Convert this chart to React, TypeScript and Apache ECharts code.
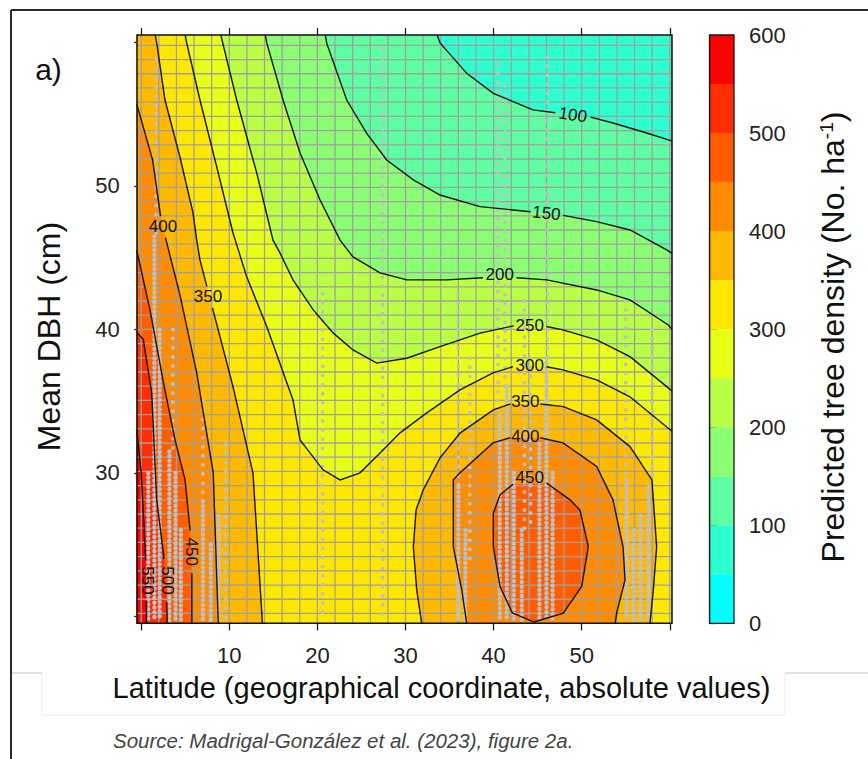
import React, { useEffect, useRef } from "react";
import * as echarts from "echarts";

const FONT = "'Liberation Sans', Arial, Helvetica, sans-serif";

// ---------- axes ----------
const latLabels = [10, 20, 30, 40, 50];
const dbhLabels = [30, 40, 50];
const densityTicks = [0, 100, 200, 300, 400, 500, 600];

// ---------- colour classes (No. ha-1) ----------
const densityBreaks = [0, 50, 100, 150, 200, 250, 300, 350, 400, 450, 500, 550, 600];
const binColors = [
  "#00FFFF", "#2EFFD1", "#5DFFA2", "#8BFF74", "#B9FF46", "#E8FF17",
  "#FFE800", "#FFB900", "#FF8B00", "#FF5D00", "#FF2E00", "#FF0000",
];

// ---------- contour lines [latitude, mean DBH]; null = gap for label ----------
const c100 = [[33.6, 60.5], [33.92, 59.97], [36.95, 57.85], [39.97, 56.46], [44.47, 55.3], [47.0, 55.1], null, [51.0, 54.8], [53.55, 54.39], [57.38, 53.69], [59.83, 53.21], [60.25, 53.14]];
const c150 = [[20.9, 60.5], [21.06, 59.94], [23.33, 55.99], [25.6, 53.67], [27.87, 51.81], [30.89, 50.42], [33.92, 49.37], [38.46, 48.56], [44.2, 48.2], null, [47.9, 47.95], [51.7, 47.51], [55.48, 46.93], [59.65, 45.54], [60.25, 45.3]];
const c200 = [[14.1, 60.5], [14.25, 59.97], [16.1, 55.99], [18.03, 52.3], [20.3, 49.02], [22.57, 46.22], [24.04, 45.05], [27.11, 43.94], [30.14, 43.45], [34.68, 43.45], [38.8, 43.6], null, [42.6, 43.6], [46.03, 43.45], [51.7, 42.75], [55.48, 42.06], [59.83, 40.31], [60.25, 40.0]];
const c250 = [[9.05, 60.5], [9.25, 59.97], [10.84, 55.99], [13.11, 50.91], [14.96, 46.22], [15.75, 45.33], [17.23, 43.45], [19.53, 41.36], [21.81, 39.74], [24.04, 38.57], [26.73, 37.65], [30.14, 37.99], [33.92, 38.8], [38.46, 39.74], [42.3, 40.25], null, [46.0, 40.2], [47.88, 39.97], [51.7, 39.27], [55.48, 38.1], [59.65, 36.01], [60.25, 35.7]];
const c300 = [[5.0, 60.5], [5.16, 59.97], [6.67, 55.99], [8.57, 51.35], [10.42, 46.72], [11.97, 43.68], [14.25, 40.2], [17.23, 35.08], [18.03, 32.3], [20.64, 30.21], [22.57, 29.51], [24.84, 30.0], [27.11, 31.39], [29.38, 32.79], [32.41, 34.18], [36.19, 35.78], [39.93, 36.97], [42.2, 37.4], null, [46.0, 37.4], [47.88, 37.18], [51.7, 36.48], [55.48, 35.3], [59.65, 33.2], [60.25, 32.9]];
const c350w = [[1.6, 60.5], [1.76, 59.97], [2.7, 55.99], [4.4, 52.02], [5.88, 48.12], [6.3, 46.22], [6.67, 44.84], [7.45, 43.0], null, [8.09, 41.5], [10.42, 36.01], [12.69, 29.98], [13.71, 20.03], [13.75, 19.5]];
const c350e = [[31.84, 19.5], [31.27, 21.85], [30.89, 24.84], [31.2, 27.42], [32.02, 28.82], [33.92, 31.04], [36.19, 32.77], [39.97, 34.39], [41.9, 34.8], null, [45.3, 34.8], [47.92, 34.62], [51.7, 33.69], [55.48, 31.83], [57.97, 29.51], [58.51, 24.84], [58.13, 21.85], [57.75, 19.5]];
const c400w = [[-0.5, 55.7], [1.3, 51.8], [2.2, 47.9], null, [2.75, 46.4], [4.4, 42.4], [6.3, 36.97], [8.18, 30.0], [8.72, 20.03], [8.75, 19.5]];
const c400e = [[36.95, 19.5], [36.38, 21.85], [35.43, 24.84], [35.43, 29.51], [36.19, 30.0], [39.93, 32.09], [41.9, 32.45], null, [45.3, 32.45], [47.88, 32.09], [51.7, 30.44], [53.55, 28.12], [54.69, 24.84], [54.92, 22.54], [53.97, 20.24], [53.8, 19.5]];
const c450w = [[-0.5, 45.5], [1.0, 41.36], [2.47, 36.48], [3.84, 32.3], [4.98, 29.51], [5.55, 26.0], null, [5.75, 23.0], [5.75, 19.5]];
const c450e = [[44.6, 19.6], [42.13, 20.24], [40.73, 22.08], [39.97, 24.86], [39.97, 27.19], [40.73, 28.47], [42.2, 29.2], null, [46.03, 29.28], [48.67, 28.12], [49.8, 27.4], [50.75, 24.86], [50.0, 22.08], [47.91, 20.22], [44.6, 19.6]];
const c500 = [[-0.5, 39.8], [0.24, 39.3], [1.19, 35.57], [1.76, 28.12], [2.6, 24.0], null, [2.9, 21.0], [2.95, 19.5]];
const c550 = [[-0.5, 33.0], [0.0, 30.0], [0.35, 26.0], [0.5, 23.9], null, [0.6, 21.1], [0.6, 19.5]];

const contourLines = [c100, c150, c200, c250, c300, c350w, c350e, c400w, c400e, c450w, c450e, c500, c550];

// contour labels: [text, latitude, DBH, angle in degrees]
const contourLabels: [string, number, number, number][] = [
  ["100", 49.0, 54.95, -9],
  ["150", 46.0, 48.1, -6],
  ["200", 40.7, 43.8, 0],
  ["250", 44.1, 40.3, 0],
  ["300", 44.1, 37.45, 0],
  ["350", 43.6, 34.95, 0],
  ["400", 43.6, 32.5, 0],
  ["450", 44.1, 29.7, 0],
  ["400", 2.47, 47.14, 0],
  ["350", 7.58, 42.26, 0],
  ["550", 0.7, 22.5, -90],
  ["500", 3.0, 22.5, -90],
  ["450", 5.75, 24.5, -90],
];

// filled superlevel regions: level, boundary line, frame corners closing it
const fillLayers: { level: number; line: any[]; close: string[] }[] = [
  { level: 50, line: [], close: ["LT", "RT", "RB", "LB"] },
  { level: 100, line: c100, close: ["RB", "LB", "LT"] },
  { level: 150, line: c150, close: ["RB", "LB", "LT"] },
  { level: 200, line: c200, close: ["RB", "LB", "LT"] },
  { level: 250, line: c250, close: ["RB", "LB", "LT"] },
  { level: 300, line: c300, close: ["RB", "LB", "LT"] },
  { level: 350, line: c350w, close: ["LB", "LT"] },
  { level: 350, line: c350e, close: [] },
  { level: 400, line: c400w, close: ["LB"] },
  { level: 400, line: c400e, close: [] },
  { level: 450, line: c450w, close: ["LB"] },
  { level: 450, line: c450e, close: [] },
  { level: 500, line: c500, close: ["LB"] },
  { level: 550, line: c550, close: ["LB"] },
];

// plot observations (grey dots) as columns: [latitude, DBH top, DBH bottom]
const denseDotColumns = [
  [0.8, 30, 19.7], [1.5, 46.5, 19.7], [2.1, 40, 19.7], [3.2, 31.5, 19.7], [3.9, 30, 19.7], [4.5, 26, 19.7],
  [7.0, 28, 19.7], [7.9, 25, 19.7], [8.8, 27, 19.7], [36.0, 29, 19.7], [36.8, 26, 19.7],
  [40.7, 34, 19.7], [41.5, 36, 19.7], [42.3, 30, 19.7], [43.2, 26, 19.7], [45.2, 32, 19.7],
  [46.0, 38, 19.7], [46.7, 30, 19.7], [55.1, 29.5, 19.7], [55.9, 26, 19.7], [56.7, 27, 19.7], [57.6, 29, 19.7],
];
const sparseDotColumns = [
  [1.7, 58.8, 46.5], [3.6, 40, 31.5], [7.0, 35, 28], [9.6, 32, 19.7], [20.6, 42.5, 19.7],
  [27.4, 59.5, 19.7], [36.0, 42.5, 29], [37.3, 38, 24], [40.5, 58.5, 34], [41.3, 57, 36],
  [43.5, 42, 26], [46.1, 59, 38], [55.0, 42, 29.5], [58.0, 40, 29], [44.2, 38, 26],
];

const FRAME: Record<string, number[]> = {
  LT: [-0.5, 60.5], RT: [60.25, 60.5], RB: [60.25, 19.5], LB: [-0.5, 19.5],
};

function buildOption() {
  const gridLines: number[][] = [];
  for (let v = 0; v <= 60; v += 2) gridLines.push([0, v]);
  for (let k = 0; k <= 40; k++) gridLines.push([1, 20.2 + k * 0.99]);

  const tickStyle = { length: 7, lineStyle: { color: "#1a1a1a", width: 1.3 } };
  const labelBase = { fontSize: 22, fontFamily: FONT, color: "#222" };

  const dotRender = (dense: boolean) => (params: any, api: any) => {
    const p1 = api.coord([api.value(0), api.value(1)]);
    const p2 = api.coord([api.value(0), api.value(2)]);
    return {
      type: "line",
      shape: { x1: p1[0], y1: p1[1], x2: p2[0], y2: p2[1] },
      style: {
        stroke: "#c0c0c0",
        lineWidth: dense ? 4.4 : 3.8,
        lineDash: dense ? [0.1, 4.6] : [0.1, 9],
        lineCap: "round",
      },
    };
  };

  return {
    animation: false,
    backgroundColor: "#ffffff",
    grid: [
      { left: 141.2, top: 42.5, width: 528.6, height: 573.8 },
      { left: 709.7, top: 35, width: 24.3, height: 588.3 },
    ],
    xAxis: [
      {
        gridIndex: 0, type: "value", min: 0, max: 60, interval: 10, position: "bottom", offset: 7,
        axisLine: { show: false }, axisTick: tickStyle, splitLine: { show: false },
        axisLabel: { ...labelBase, margin: 21, formatter: (v: number) => (latLabels.includes(v) ? String(v) : "") },
      },
      {
        gridIndex: 0, type: "value", min: 0, max: 60, interval: 10, position: "top", offset: 7.5,
        axisLine: { show: false }, axisTick: tickStyle, splitLine: { show: false }, axisLabel: { show: false },
      },
      { gridIndex: 1, type: "value", min: 0, max: 1, show: false },
    ],
    yAxis: [
      {
        gridIndex: 0, type: "value", min: 20, max: 60, interval: 10, position: "left", offset: 4.4,
        axisLine: { show: false }, axisTick: tickStyle, splitLine: { show: false },
        axisLabel: { ...labelBase, margin: 17, formatter: (v: number) => (dbhLabels.includes(v) ? String(v) : "") },
      },
      {
        gridIndex: 0, type: "value", min: 20, max: 60, interval: 10, position: "right", offset: 2.2,
        axisLine: { show: false }, axisTick: tickStyle, splitLine: { show: false }, axisLabel: { show: false },
      },
      {
        gridIndex: 1, type: "value", min: densityTicks[0], max: densityTicks[densityTicks.length - 1], interval: 100,
        position: "right", axisLine: { show: true, lineStyle: { color: "#1a1a1a", width: 1.3 } },
        axisTick: tickStyle, splitLine: { show: false }, axisLabel: { ...labelBase, margin: 15 },
      },
    ],
    series: [
      {
        type: "custom", name: "fills", xAxisIndex: 0, yAxisIndex: 0, z: 1,
        data: fillLayers.map((f, i) => [i, f.level]),
        renderItem: (params: any, api: any) => {
          const f = fillLayers[params.dataIndex];
          const pts = f.line.filter((p: any) => p).concat(f.close.map((k) => FRAME[k]));
          return {
            type: "polygon",
            shape: { points: pts.map((p: number[]) => api.coord(p)) },
            style: { fill: binColors[f.level / 50] },
          };
        },
      },
      {
        type: "custom", name: "grid", xAxisIndex: 0, yAxisIndex: 0, z: 2,
        data: gridLines,
        renderItem: (params: any, api: any) => {
          const kind = api.value(0);
          const v = api.value(1);
          const a = kind === 0 ? api.coord([v, 19.5]) : api.coord([-0.5, v]);
          const b = kind === 0 ? api.coord([v, 60.5]) : api.coord([60.25, v]);
          return {
            type: "line",
            shape: { x1: a[0], y1: a[1], x2: b[0], y2: b[1] },
            style: { stroke: "#a0a0a0", lineWidth: 1.3 },
          };
        },
      },
      {
        type: "custom", name: "obs-sparse", xAxisIndex: 0, yAxisIndex: 0, z: 3,
        data: sparseDotColumns, renderItem: dotRender(false),
      },
      {
        type: "custom", name: "obs-dense", xAxisIndex: 0, yAxisIndex: 0, z: 3,
        data: denseDotColumns, renderItem: dotRender(true),
      },
      {
        type: "custom", name: "contours", xAxisIndex: 0, yAxisIndex: 0, z: 4,
        data: contourLines.map((_, i) => [i, 0]),
        renderItem: (params: any, api: any) => {
          const line = contourLines[params.dataIndex];
          const segs: number[][][] = [];
          let cur: number[][] = [];
          line.forEach((p: any) => {
            if (!p) { if (cur.length) segs.push(cur); cur = []; }
            else cur.push(api.coord(p));
          });
          if (cur.length) segs.push(cur);
          return {
            type: "group",
            children: segs.map((s) => ({
              type: "polyline",
              shape: { points: s },
              style: { stroke: "#141414", lineWidth: 1.4, fill: null },
            })),
          };
        },
      },
      {
        type: "custom", name: "contour-labels", xAxisIndex: 0, yAxisIndex: 0, z: 5,
        data: contourLabels.map((l) => [l[1], l[2]]),
        renderItem: (params: any, api: any) => {
          const l = contourLabels[params.dataIndex];
          const p = api.coord([l[1], l[2]]);
          return {
            type: "text", x: p[0], y: p[1], rotation: (l[3] * Math.PI) / 180,
            style: { text: l[0], fontSize: 17, fontFamily: FONT, fill: "#111", align: "center", verticalAlign: "middle" },
          };
        },
      },
      {
        type: "custom", name: "colorbar", xAxisIndex: 2, yAxisIndex: 2, z: 1,
        data: binColors.map((_, i) => [densityBreaks[i], densityBreaks[i + 1]]),
        renderItem: (params: any, api: any) => {
          const p1 = api.coord([0, api.value(1)]);
          const p2 = api.coord([1, api.value(0)]);
          return {
            type: "rect",
            shape: { x: p1[0], y: p1[1], width: p2[0] - p1[0], height: p2[1] - p1[1] },
            style: { fill: binColors[params.dataIndex] },
          };
        },
      },
    ],
    graphic: [
      { type: "line", z: 20, shape: { x1: 11, y1: 10, x2: 868, y2: 10 }, style: { stroke: "#2a2a2a", lineWidth: 2 } },
      { type: "line", z: 20, shape: { x1: 11, y1: 10, x2: 11, y2: 759 }, style: { stroke: "#2a2a2a", lineWidth: 2 } },
      { type: "line", z: 20, shape: { x1: 12, y1: 673, x2: 42, y2: 673 }, style: { stroke: "#c4c4c4", lineWidth: 1 } },
      { type: "line", z: 20, shape: { x1: 785, y1: 673, x2: 868, y2: 673 }, style: { stroke: "#c4c4c4", lineWidth: 1 } },
      { type: "line", z: 20, shape: { x1: 42, y1: 673, x2: 42, y2: 715 }, style: { stroke: "#ececec", lineWidth: 1 } },
      { type: "line", z: 20, shape: { x1: 42, y1: 715, x2: 785, y2: 715 }, style: { stroke: "#ececec", lineWidth: 1 } },
      { type: "line", z: 20, shape: { x1: 785, y1: 673, x2: 785, y2: 715 }, style: { stroke: "#ececec", lineWidth: 1 } },
      { type: "rect", z: 20, shape: { x: 137, y: 35, width: 535, height: 588.3 }, style: { fill: "none", stroke: "#111", lineWidth: 1.5 } },
      { type: "rect", z: 20, shape: { x: 709.7, y: 35, width: 24.3, height: 588.3 }, style: { fill: "none", stroke: "#1a1a1a", lineWidth: 1.3 } },
      { type: "text", z: 20, x: 48.5, y: 69, style: { text: "a)", fontSize: 30, fontFamily: FONT, fill: "#111", align: "center", verticalAlign: "middle" } },
      { type: "text", z: 20, x: 49, y: 336.5, rotation: Math.PI / 2, style: { text: "Mean DBH (cm)", fontSize: 32, fontFamily: FONT, fill: "#111", align: "center", verticalAlign: "middle" } },
      { type: "text", z: 20, x: 441.5, y: 688, style: { text: "Latitude (geographical coordinate, absolute values)", fontSize: 29, fontFamily: FONT, fill: "#111", align: "center", verticalAlign: "middle" } },
      {
        type: "text", z: 20, x: 833, y: 337, rotation: Math.PI / 2,
        style: {
          text: "{a|Predicted tree density (No. ha}{s|-1}{a|)}",
          align: "center", verticalAlign: "middle", fill: "#111",
          rich: {
            a: { fontSize: 32, fontFamily: FONT, fill: "#111" },
            s: { fontSize: 19, fontFamily: FONT, fill: "#111", padding: [0, 0, 14, 0] },
          },
        },
      },
      { type: "text", z: 20, x: 113, y: 740, style: { text: "Source: Madrigal-González et al. (2023), figure 2a.", fontSize: 20.5, fontStyle: "italic", fontFamily: FONT, fill: "#444", align: "left", verticalAlign: "middle" } },
    ],
  };
}

export default function App() {
  const ref = useRef<HTMLDivElement>(null);
  useEffect(() => {
    const chart = echarts.init(ref.current!, null, { renderer: "svg" });
    chart.setOption(buildOption() as any);
    return () => chart.dispose();
  }, []);
  return (
    <div
      ref={ref}
      style={{ position: "fixed", left: 0, top: 0, width: 868, height: 759, background: "#fff" }}
    />
  );
}
